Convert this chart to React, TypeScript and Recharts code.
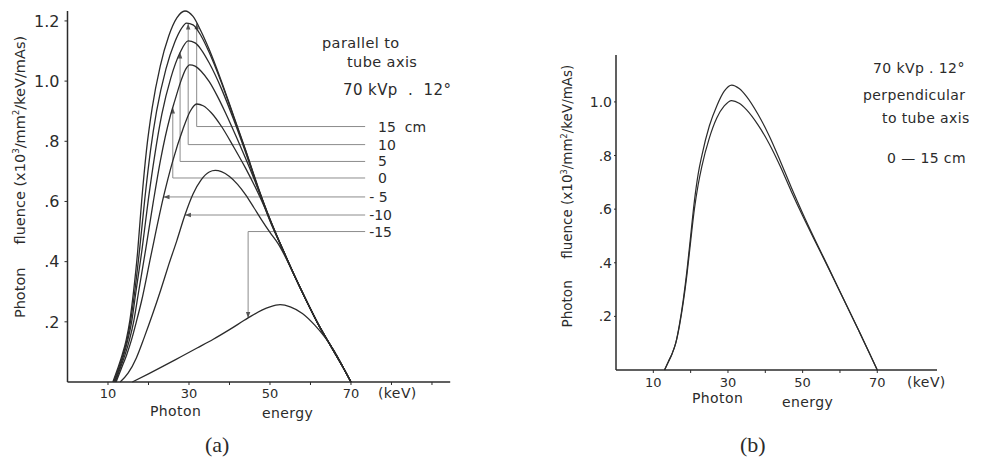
import React from 'react';
import { LineChart, Line, XAxis, YAxis, ReferenceLine } from 'recharts';

const FONT = '"DejaVu Sans", sans-serif';
const INK = '#2b2b2b';

// photon energy (keV), fluence (x10^3 / mm^2 / keV / mAs)
// (a) parallel to tube axis, one curve per position along the axis
const tailA = [[56, 0.355], [59, 0.27], [62, 0.19], [65, 0.12], [68, 0.05], [70, 0]];

const pos15 = [[11.2, 0], [12.4, 0.045], [13.5, 0.09], [14.5, 0.14], [15.4, 0.205], [16.3, 0.3], [17.3, 0.43], [18.3, 0.6], [19.5, 0.77], [20.9, 0.91], [22.9, 1.05], [25, 1.15], [27, 1.21], [29, 1.233], [31, 1.215], [33, 1.165], [35, 1.105], [38, 1.0], [41, 0.885], [44, 0.77], [47, 0.65], [50, 0.54], [53, 0.445], ...tailA];
const pos10 = [[11.4, 0], [12.6, 0.045], [13.7, 0.09], [14.7, 0.14], [15.6, 0.205], [16.6, 0.3], [17.8, 0.44], [19.1, 0.61], [20.5, 0.77], [22, 0.9], [24.3, 1.04], [26.5, 1.13], [28, 1.172], [29.4, 1.193], [31, 1.187], [33, 1.15], [35, 1.095], [38, 0.995], [41, 0.882], [44, 0.768], [47, 0.648], [50, 0.538], [53, 0.445], ...tailA];
const pos5 = [[11.6, 0], [12.8, 0.045], [13.9, 0.09], [14.9, 0.14], [15.9, 0.205], [16.9, 0.3], [18.4, 0.44], [20, 0.61], [21.5, 0.75], [23.3, 0.89], [25.5, 1.01], [27.8, 1.095], [29.8, 1.134], [31.5, 1.127], [33, 1.105], [35, 1.06], [38, 0.975], [41, 0.873], [44, 0.762], [47, 0.645], [50, 0.535], [53, 0.445], ...tailA];
const pos0 = [[11.8, 0], [13, 0.045], [14.2, 0.09], [15.3, 0.14], [16.4, 0.205], [17.5, 0.295], [19.3, 0.44], [21.2, 0.6], [23, 0.74], [25.3, 0.88], [26.5, 0.935], [28, 1.0], [29.2, 1.04], [30.2, 1.054], [31.5, 1.05], [33, 1.033], [35, 0.998], [37, 0.95], [39, 0.895], [42, 0.805], [45, 0.71], [48, 0.61], [51, 0.508], [53, 0.445], ...tailA];
const neg5 = [[12, 0], [13.3, 0.045], [14.6, 0.09], [15.8, 0.14], [17, 0.2], [18.3, 0.27], [20.6, 0.42], [23.7, 0.615], [26, 0.735], [28.5, 0.84], [30.3, 0.9], [31.9, 0.924], [33.5, 0.918], [35.5, 0.895], [38, 0.85], [41, 0.782], [44, 0.71], [47, 0.63], [50, 0.54], [53, 0.445], ...tailA];
const neg10 = [[13, 0], [15, 0.03], [17, 0.08], [19, 0.15], [21, 0.225], [23, 0.305], [25, 0.39], [27, 0.47], [29, 0.555], [31, 0.625], [33, 0.672], [35, 0.698], [36.5, 0.703], [38, 0.699], [40, 0.683], [42, 0.657], [44, 0.622], [46, 0.58], [48, 0.537], [50, 0.497], [52, 0.46], ...tailA];
const neg15 = [[16, 0], [20, 0.027], [24, 0.055], [28, 0.084], [32, 0.113], [36, 0.142], [40, 0.174], [44.6, 0.213], [48, 0.239], [50, 0.25], [52.5, 0.257], [55, 0.25], [58, 0.228], [61, 0.19], [63.5, 0.15], [66, 0.1], [68, 0.05], [70, 0]];

const seriesA = [pos15, pos10, pos5, pos0, neg5, neg10, neg15];
const leaderLabels = ['\u200715\u00a0\u00a0cm', '\u200710', '\u20075', '\u20070', '-\u00a05', '-10', '-15'];
const leaderEnergy = [31.9, 29.8, 27.8, 26.0, 23.7, 29.0, 44.6];
// height of the label row; null = arrow runs straight across to the curve
const leaderLevel: (number | null)[] = [0.849, 0.789, 0.733, 0.678, null, null, 0.5];
const LEADER_END = 73.5;

// (b) perpendicular to tube axis, 0 and 15 cm
const perpHigh = [[13, 0], [14, 0.03], [15, 0.06], [16, 0.1], [17, 0.17], [18, 0.26], [19, 0.37], [20, 0.5], [21, 0.63], [22, 0.73], [23, 0.8], [25, 0.91], [27, 0.985], [29, 1.04], [31, 1.063], [33, 1.05], [35, 1.02], [38, 0.955], [41, 0.875], [44, 0.78], [47, 0.68], [50, 0.585], [53, 0.495], [57, 0.38], [61, 0.264], [65, 0.148], [68, 0.06], [70, 0]];
const perpLow = [[13, 0], [14, 0.03], [15, 0.06], [16, 0.1], [17, 0.165], [18, 0.25], [19, 0.355], [20, 0.48], [21, 0.6], [22, 0.69], [23, 0.76], [25, 0.865], [27, 0.94], [29, 0.985], [31, 1.005], [33, 0.995], [35, 0.97], [38, 0.915], [41, 0.845], [44, 0.76], [47, 0.665], [50, 0.575], [53, 0.49], [57, 0.378], [61, 0.263], [65, 0.148], [68, 0.06], [70, 0]];

const xTicksA = [10, 20, 30, 40, 50, 60, 70, 80, 90];
const xTicksB = [10, 20, 30, 40, 50, 60, 70];
const xLabelled = [10, 30, 50, 70];
const yTicksA = [0.2, 0.4, 0.6, 0.8, 1.0, 1.2];
const yTicksB = [0.2, 0.4, 0.6, 0.8, 1.0];

const toPts = (rows: number[][]) => rows.map(([e, v]) => ({ e, v }));

// reads a curve's height at a given energy, used to land the leader arrows on it
const valueAt = (rows: number[][], e: number) => {
  for (let i = 1; i < rows.length; i++) {
    const [e0, v0] = rows[i - 1];
    const [e1, v1] = rows[i];
    if (e >= e0 && e <= e1) return v0 + ((v1 - v0) * (e - e0)) / (e1 - e0);
  }
  return 0;
};

const fmtX = (v: number) => (xLabelled.includes(v) ? String(v) : '');
const fmtY = (v: number) => (v >= 1 ? v.toFixed(1) : v.toFixed(1).replace(/^0/, ''));

const ArrowLine = (p: any) => {
  const { x1, y1, x2, y2 } = p;
  const dx = x2 - x1;
  const dy = y2 - y1;
  const len = Math.hypot(dx, dy) || 1;
  const ux = dx / len;
  const uy = dy / len;
  const bx = x2 - ux * 6;
  const by = y2 - uy * 6;
  const tri = `${x2},${y2} ${bx - uy * 2.2},${by + ux * 2.2} ${bx + uy * 2.2},${by - ux * 2.2}`;
  return (
    <g>
      <line x1={x1} y1={y1} x2={x2} y2={y2} stroke="#8c8c8c" strokeWidth={1} />
      <polygon points={tri} fill="#555" />
    </g>
  );
};

const labelStyle = { position: 'right' as const, offset: 4, fontSize: 14, fill: INK, fontFamily: FONT };

function Txt({ x, y, size = 14, serif = false, children }: { x: number; y: number; size?: number; serif?: boolean; children: React.ReactNode }) {
  return (
    <div
      style={{
        position: 'absolute',
        left: x,
        top: y - size / 2,
        fontSize: size,
        lineHeight: 1,
        whiteSpace: 'pre',
        letterSpacing: serif ? 0 : 0.4,
        color: INK,
        fontFamily: serif ? '"Liberation Serif", serif' : FONT,
      }}
    >
      {children}
    </div>
  );
}

function YTitle({ x, y, size }: { x: number; y: number; size: number }) {
  return (
    <div
      style={{
        position: 'absolute',
        left: x,
        top: y,
        transform: 'translate(-50%, -50%) rotate(-90deg)',
        fontSize: size,
        lineHeight: 1,
        whiteSpace: 'pre',
        color: INK,
        fontFamily: FONT,
      }}
    >
      {'Photon     fluence (x10'}
      <sup style={{ fontSize: '0.6em' }}>3</sup>
      {'/mm'}
      <sup style={{ fontSize: '0.6em' }}>2</sup>
      {'/keV/mAs)'}
    </div>
  );
}

export default function App() {
  const axisLine = { stroke: INK, strokeWidth: 1.5 };
  const tickLine = { stroke: INK, strokeWidth: 1 };

  const leaderLines: React.ReactNode[] = [];
  leaderLabels.forEach((lbl, i) => {
    const e = leaderEnergy[i];
    const tip = valueAt(seriesA[i], e);
    const lvl = leaderLevel[i];
    if (lvl === null) {
      leaderLines.push(
        <ReferenceLine key={`h${i}`} segment={[{ x: LEADER_END, y: tip }, { x: e, y: tip }]} shape={ArrowLine} label={{ value: lbl, ...labelStyle }} />,
      );
    } else {
      leaderLines.push(
        <ReferenceLine key={`h${i}`} segment={[{ x: e, y: lvl }, { x: LEADER_END, y: lvl }]} stroke="#8c8c8c" strokeWidth={1} label={{ value: lbl, ...labelStyle }} />,
        <ReferenceLine key={`v${i}`} segment={[{ x: e, y: lvl }, { x: e, y: tip }]} shape={ArrowLine} />,
      );
    }
  });

  return (
    <div style={{ position: 'absolute', left: 0, top: 0, width: 982, height: 468, background: '#fff', fontFamily: FONT }}>
      <div style={{ position: 'absolute', left: 0, top: 0 }}>
        <LineChart width={470} height={468} margin={{ top: 11, right: 19.8, bottom: 56, left: 7.5 }}>
          <XAxis
            type="number"
            dataKey="e"
            domain={[0, 94.5]}
            ticks={xTicksA}
            interval={0}
            tickFormatter={fmtX}
            tickSize={3}
            tickMargin={4}
            height={30}
            axisLine={axisLine}
            tickLine={tickLine}
            tick={{ fontSize: 13, fill: INK, fontFamily: FONT }}
          />
          <YAxis
            type="number"
            domain={[0, 1.22]}
            ticks={yTicksA}
            interval={0}
            tickFormatter={fmtY}
            tickSize={3}
            tickMargin={5}
            width={60}
            axisLine={axisLine}
            tickLine={tickLine}
            tick={{ fontSize: 16, fill: INK, fontFamily: FONT }}
          />
          {leaderLines}
          {seriesA.map((rows, i) => (
            <Line
              key={i}
              data={toPts(rows)}
              dataKey="v"
              type="monotone"
              dot={false}
              stroke={INK}
              strokeWidth={1.3}
              isAnimationActive={false}
            />
          ))}
        </LineChart>
      </div>

      <div style={{ position: 'absolute', left: 500, top: 0 }}>
        <LineChart width={482} height={468} margin={{ top: 55, right: 45, bottom: 68, left: 56 }}>
          <XAxis
            type="number"
            dataKey="e"
            domain={[0, 86]}
            ticks={xTicksB}
            interval={0}
            tickFormatter={fmtX}
            tickSize={3}
            tickMargin={5}
            height={30}
            axisLine={axisLine}
            tickLine={tickLine}
            tick={{ fontSize: 13, fill: INK, fontFamily: FONT }}
          />
          <YAxis
            type="number"
            domain={[0, 1.175]}
            ticks={yTicksB}
            interval={0}
            tickFormatter={fmtY}
            tickSize={2}
            tickMargin={2}
            width={60}
            axisLine={axisLine}
            tickLine={tickLine}
            tick={{ fontSize: 14, fill: INK, fontFamily: FONT }}
          />
          {[perpHigh, perpLow].map((rows, i) => (
            <Line
              key={i}
              data={toPts(rows)}
              dataKey="v"
              type="monotone"
              dot={false}
              stroke={INK}
              strokeWidth={1.2}
              isAnimationActive={false}
            />
          ))}
        </LineChart>
      </div>

      {/* panel (a) text */}
      <YTitle x={20} y={177} size={14.5} />
      <Txt x={322} y={43} size={14.5}>parallel to</Txt>
      <Txt x={347} y={62} size={14.5}>tube axis</Txt>
      <Txt x={343} y={90} size={15}>{'70 kVp  .  12°'}</Txt>
      <Txt x={378} y={393}>(keV)</Txt>
      <Txt x={150} y={411}>Photon</Txt>
      <Txt x={262} y={413}>energy</Txt>
      <Txt x={205} y={445} size={22} serif>(a)</Txt>

      {/* panel (b) text */}
      <YTitle x={567} y={196} size={13.5} />
      <Txt x={873} y={68}>{'70 kVp . 12°'}</Txt>
      <Txt x={863} y={95}>perpendicular</Txt>
      <Txt x={882} y={118}>to tube axis</Txt>
      <Txt x={887} y={158}>{'0 — 15 cm'}</Txt>
      <Txt x={907} y={382}>(keV)</Txt>
      <Txt x={692} y={398}>Photon</Txt>
      <Txt x={782} y={402}>energy</Txt>
      <Txt x={740} y={445} size={22} serif>(b)</Txt>
    </div>
  );
}
